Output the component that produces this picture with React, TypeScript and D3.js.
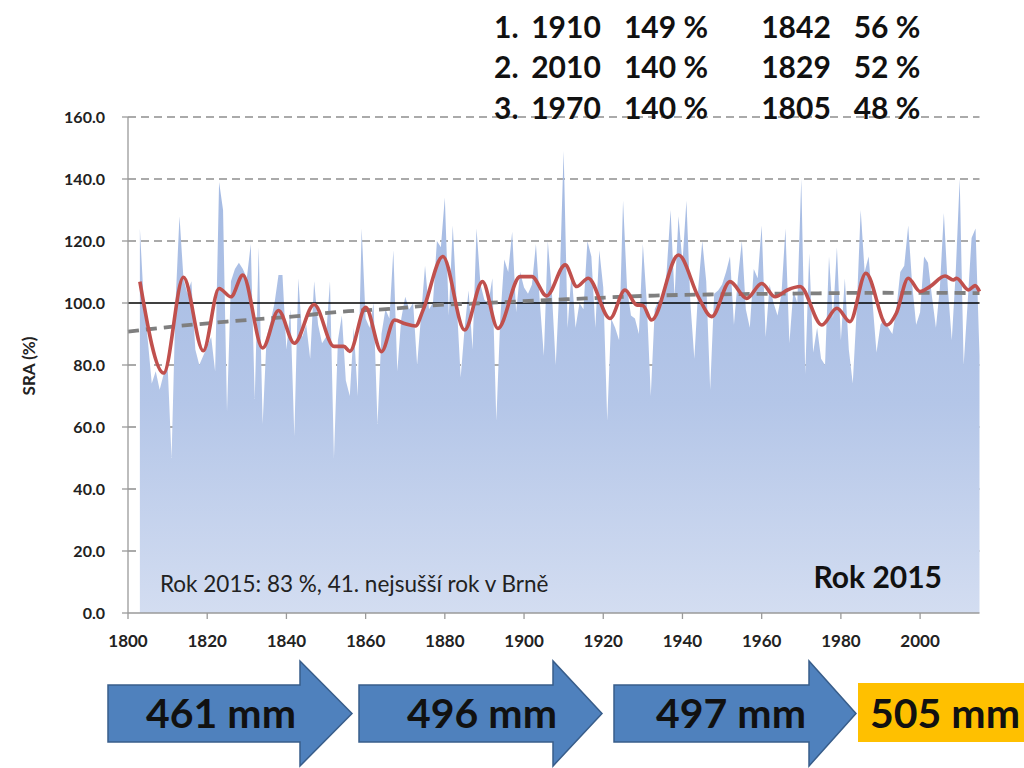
import React from 'react';
import * as d3 from 'd3';

// ---------- DATA ----------
const firstYear = 1803;
const sraValues = [
  124, 100, 88, 74, 78, 72, 77, 80, 50, 100,
  128, 108, 103, 107, 85, 80, 83, 86, 89, 78,
  139, 130, 65, 107, 111, 113, 111, 108, 119, 69,
  118, 61, 89, 94, 100, 109, 109, 85, 98, 57,
  108, 89, 93, 82, 107, 93, 87, 89, 107, 50,
  88, 96, 75, 70, 92, 70, 124, 95, 92, 100,
  61, 90, 98, 95, 117, 78, 95, 102, 98, 100,
  80, 96, 112, 98, 100, 120, 118, 134, 96, 125,
  100, 76, 92, 104, 85, 124, 106, 101, 100, 108,
  62, 95, 114, 110, 123, 97, 110, 105, 103, 106,
  119, 100, 83, 120, 104, 80, 107, 149, 92, 110,
  92, 100, 98, 120, 115, 92, 117, 105, 62, 95,
  92, 88, 133, 105, 96, 95, 90, 119, 100, 70,
  98, 101, 100, 110, 130, 102, 128, 113, 133, 100,
  82, 105, 120, 107, 72, 103, 104, 106, 110, 115,
  93, 108, 120, 98, 92, 111, 108, 125, 89, 106,
  100, 96, 103, 124, 87, 104, 100, 140, 77, 116,
  84, 92, 82, 80, 115, 95, 118, 88, 108, 85,
  74, 98, 130, 110, 115, 100, 84, 93, 95, 92,
  90, 98, 110, 112, 125, 106, 93, 97, 115, 113,
  102, 92, 105, 129, 105, 88, 110, 140, 80, 100,
  121, 124, 83,
];

// smoothed (red) series, read at its turning points
const smoothYears = [1803, 1809, 1814, 1819, 1823, 1826, 1829, 1834, 1838, 1842, 1847, 1852, 1854.5, 1856,
  1860, 1864, 1867.3, 1870, 1872.6, 1874.5, 1879.5, 1885, 1889.5, 1893.4, 1899, 1902, 1905.7,
  1910.4, 1913.3, 1916.2, 1921.7, 1925.5, 1928.4, 1930, 1932.2, 1939, 1944, 1947.4, 1952, 1956.2, 1960,
  1963.4, 1966.5, 1969.7, 1975.2, 1979, 1982.3, 1986.3, 1991.6, 1994, 1997, 2000, 2002.5, 2006.3,
  2008.4, 2009.2, 2012.2, 2013.9, 2015];
const smoothValues = [106.9, 77.4, 108.3, 84.6, 104.7, 102, 109, 85.5, 97.6, 87, 99.5, 86, 86, 84.4,
  98.6, 84.3, 94.5, 93.3, 92.6, 97.7, 115, 91.3, 106.9, 91.8, 108.5, 108.5, 102.3,
  112.3, 105.3, 108, 95, 104.2, 99.4, 99.2, 94.5, 115.5, 102, 95.6, 106.9, 101.5, 106.3,
  102, 104.2, 105.3, 92.9, 98.3, 94, 109.6, 92.9, 96.7, 108, 103.7, 105.3, 108.7,
  107.4, 108, 104.2, 105.6, 103.7];

// trend (grey dashed)
const trendYears = [1800, 1813, 1825, 1842, 1854, 1866, 1876, 1887, 1900, 1916, 1933, 1950, 1972, 1989, 2015];
const trendValues = [90.8, 92.6, 94, 95.7, 97.2, 98.1, 99.2, 99.8, 100.6, 101.5, 102.4, 102.8, 103.1, 103.3, 103.2];

const yTicks = [0, 20, 40, 60, 80, 100, 120, 140, 160];
const xTicks = [1800, 1820, 1840, 1860, 1880, 1900, 1920, 1940, 1960, 1980, 2000];

const wetRanks = ['1.', '2.', '3.'];
const wetYears = ['1910', '2010', '1970'];
const wetValues = ['149 %', '140 %', '140 %'];
const dryYears = ['1842', '1829', '1805'];
const dryValues = ['56 %', '52 %', '48 %'];

const periodLabels = ['461 mm', '496 mm', '497 mm'];
const lastPeriodLabel = '505 mm';

const noteText = 'Rok 2015: 83 %, 41. nejsušší rok v Brně';
const yearBadge = 'Rok 2015';
const yTitle = 'SRA (%)';

// ---------- LAYOUT ----------
const W = 1024;
const H = 768;
const plotLeft = 128;
const plotRight = 979.5;
const plotTop = 117;
const plotBottom = 613;
const FONT = 'Lato, "Open Sans", "DejaVu Sans", sans-serif';

export default function App() {
  const x = d3.scaleLinear().domain([1800, 2015]).range([plotLeft, plotRight]);
  const y = d3.scaleLinear().domain([0, 160]).range([plotBottom, plotTop]);

  const series = sraValues.map((v, i) => ({ year: firstYear + i, value: v }));
  const areaGen = d3.area<{ year: number; value: number }>()
    .x(d => x(d.year))
    .y0(y(0))
    .y1(d => y(d.value));
  const smooth = smoothYears.map((yr, i) => [yr, smoothValues[i]] as [number, number]);
  const smoothLine = d3.line<[number, number]>()
    .x(d => x(d[0]))
    .y(d => y(d[1]))
    .curve(d3.curveMonotoneX);
  const trend = trendYears.map((yr, i) => [yr, trendValues[i]] as [number, number]);
  const trendLine = d3.line<[number, number]>()
    .x(d => x(d[0]))
    .y(d => y(d[1]))
    .curve(d3.curveMonotoneX);

  // arrows (decorative)
  const arrows = [
    { x0: 108, hx: 300, tip: 352, cx: 221 },
    { x0: 359, hx: 553, tip: 602, cx: 482 },
    { x0: 614, hx: 809, tip: 856, cx: 731 },
  ];
  const bodyTop = 685, bodyBot = 742, headTop = 661, headBot = 766, tipY = 713.5;

  return (
    <svg width={W} height={H} style={{ position: 'absolute', left: 0, top: 0, background: '#fff' }}
      xmlns="http://www.w3.org/2000/svg">
      <defs>
        <linearGradient id="areaGrad" gradientUnits="userSpaceOnUse" x1="0" y1={y(150)} x2="0" y2={y(0)}>
          <stop offset="0" stopColor="#a3b9e2" />
          <stop offset="0.55" stopColor="#b4c6e8" />
          <stop offset="1" stopColor="#d3ddf1" />
        </linearGradient>
      </defs>
      <rect x={0} y={0} width={W} height={H} fill="#ffffff" />

      {/* gridlines */}
      {yTicks.filter(t => t !== 0 && t !== 100).map(t => (
        <line key={'g' + t} x1={plotLeft} x2={plotRight} y1={y(t)} y2={y(t)}
          stroke="#8f8f8f" strokeWidth={1.7} strokeDasharray="8 5" />
      ))}

      {/* area */}
      <path d={areaGen(series) || ''} fill="url(#areaGrad)" />

      {/* 100 reference line */}
      <line x1={plotLeft} x2={plotRight} y1={y(100)} y2={y(100)} stroke="#000" strokeWidth={1.7} />

      {/* trend */}
      <path d={trendLine(trend) || ''} fill="none" stroke="#7f7f7f" strokeWidth={3.8}
        strokeDasharray="11 7" />

      {/* smoothed */}
      <path d={smoothLine(smooth) || ''} fill="none" stroke="#c0504d" strokeWidth={3.6}
        strokeLinejoin="round" />

      {/* y axis */}
      <line x1={plotLeft} x2={plotLeft} y1={plotTop} y2={plotBottom} stroke="#9a9a9a" strokeWidth={1.3} />
      {yTicks.map(t => (
        <g key={'y' + t}>
          <line x1={plotLeft - 6} x2={plotLeft} y1={y(t)} y2={y(t)} stroke="#9a9a9a" strokeWidth={1.3} />
          <text x={105} y={y(t)} dy="0.36em" textAnchor="end" fontFamily={FONT} fontWeight={700}
            fontSize={16} fill="#222">{t.toFixed(1)}</text>
        </g>
      ))}
      <text transform={`translate(35,366) rotate(-90)`} textAnchor="middle" fontFamily={FONT}
        fontWeight={700} fontSize={17} fill="#222">{yTitle}</text>

      {/* x axis */}
      <line x1={plotLeft} x2={plotRight} y1={plotBottom} y2={plotBottom} stroke="#9a9a9a" strokeWidth={1.3} />
      {xTicks.map(t => (
        <g key={'x' + t}>
          <line x1={x(t)} x2={x(t)} y1={plotBottom} y2={plotBottom + 6} stroke="#9a9a9a" strokeWidth={1.3} />
          <text x={x(t)} y={641} dy="0.36em" textAnchor="middle" fontFamily={FONT} fontWeight={700}
            fontSize={17} fill="#222">{t}</text>
        </g>
      ))}

      {/* annotations inside plot */}
      <text x={160} y={592} fontFamily={FONT} fontSize={22.5} fill="#222">{noteText}</text>
      <text x={942} y={588} textAnchor="end" fontFamily={FONT} fontWeight={700} fontSize={30}
        fill="#111">{yearBadge}</text>

      {/* top ranking table */}
      {wetRanks.map((r, i) => {
        const ty = 27 + i * 40.5;
        return (
          <g key={'r' + i} fontFamily={FONT} fontWeight={700} fontSize={30} fill="#111">
            <text x={494} y={ty} dy="0.36em">{r}</text>
            <text x={566} y={ty} dy="0.36em" textAnchor="middle">{wetYears[i]}</text>
            <text x={666} y={ty} dy="0.36em" textAnchor="middle">{wetValues[i]}</text>
            <text x={796} y={ty} dy="0.36em" textAnchor="middle">{dryYears[i]}</text>
            <text x={887} y={ty} dy="0.36em" textAnchor="middle">{dryValues[i]}</text>
          </g>
        );
      })}

      {/* period arrows */}
      {arrows.map((a, i) => (
        <g key={'a' + i}>
          <path d={`M${a.x0},${bodyTop} L${a.hx},${bodyTop} L${a.hx},${headTop} L${a.tip},${tipY} L${a.hx},${headBot} L${a.hx},${bodyBot} L${a.x0},${bodyBot} Z`}
            fill="#4f81bd" stroke="#385d8a" strokeWidth={1.5} strokeLinejoin="miter" />
          <text x={a.cx} y={tipY} dy="0.36em" textAnchor="middle" fontFamily={FONT} fontWeight={700}
            fontSize={41} fill="#111">{periodLabels[i]}</text>
        </g>
      ))}
      <rect x={858} y={683} width={W - 858} height={59} fill="#ffc000" />
      <text x={945} y={tipY} dy="0.36em" textAnchor="middle" fontFamily={FONT} fontWeight={700}
        fontSize={41} fill="#111">{lastPeriodLabel}</text>
    </svg>
  );
}
